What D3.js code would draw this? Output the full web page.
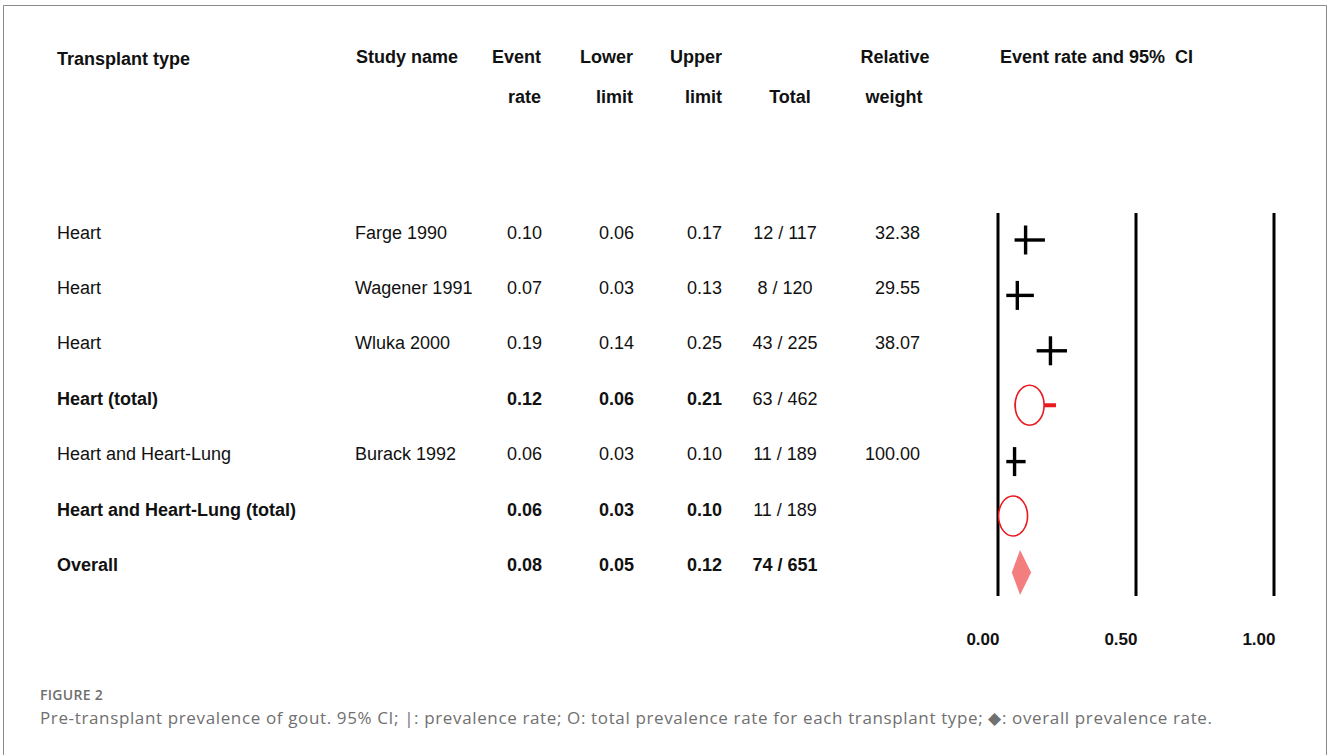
<!DOCTYPE html>
<html>
<head>
<meta charset="utf-8">
<script src="https://cdn.jsdelivr.net/npm/d3@7"></script>
<style>
    body { margin: 0; background: #fff; }
    svg { display: block; }
</style>
</head>
<body>
<div class="forest"></div>
<script>
// table data
const transplantTypes = ["Heart", "Heart", "Heart", "Heart (total)", "Heart and Heart-Lung", "Heart and Heart-Lung (total)", "Overall"];
const studyNames = ["Farge 1990", "Wagener 1991", "Wluka 2000", "", "Burack 1992", "", ""];
const eventRates = [0.10, 0.07, 0.19, 0.12, 0.06, 0.06, 0.08];
const lowerLimits = [0.06, 0.03, 0.14, 0.06, 0.03, 0.03, 0.05];
const upperLimits = [0.17, 0.13, 0.25, 0.21, 0.10, 0.10, 0.12];
const totals = ["12 / 117", "8 / 120", "43 / 225", "63 / 462", "11 / 189", "11 / 189", "74 / 651"];
const weights = ["32.38", "29.55", "38.07", "", "100.00", "", ""];
const rowKinds = ["study", "study", "study", "subtotal", "study", "subtotal", "overall"];
const axisTicks = [0, 0.5, 1];

const width = 1328,
    height = 755;

const font = "'Liberation Sans', Arial, sans-serif";

const rows = transplantTypes.map((t, i) => ({
    type: t,
    study: studyNames[i],
    rate: eventRates[i],
    lower: lowerLimits[i],
    upper: upperLimits[i],
    total: totals[i],
    weight: weights[i],
    kind: rowKinds[i]
}));

const svg = d3.select(".forest")
    .append("svg")
    .attr("width", width)
    .attr("height", height);

// frame round the figure
svg.append("path")
    .attr("d", `M3.5,${height + 2} V5.5 H1326.5 V${height + 2}`)
    .attr("fill", "none")
    .attr("stroke", "#8a8a8a")
    .attr("stroke-width", 1);

// scales
const x = d3.scaleLinear()
    .domain([0, 1])
    .range([998, 1274]);

const y = d3.scalePoint()
    .domain(d3.range(rows.length))
    .range([240, 572.4]);

// headers
const headers = [
    { t: "Transplant type", x: 57, y: 64.5, a: "start" },
    { t: "Study name", x: 356, y: 62.5, a: "start" },
    { t: "Event", x: 541, y: 62.5, a: "end" },
    { t: "rate", x: 541, y: 102.5, a: "end" },
    { t: "Lower", x: 633, y: 62.5, a: "end" },
    { t: "limit", x: 633, y: 102.5, a: "end" },
    { t: "Upper", x: 722, y: 62.5, a: "end" },
    { t: "limit", x: 722, y: 102.5, a: "end" },
    { t: "Total", x: 790, y: 102.5, a: "middle" },
    { t: "Relative", x: 895, y: 62.5, a: "middle" },
    { t: "weight", x: 894, y: 102.5, a: "middle" },
    { t: "Event rate and 95%  CI", x: 1000, y: 62.5, a: "start" }
];

svg.selectAll("text.header")
    .data(headers)
    .join("text")
    .attr("class", "header")
    .attr("x", d => d.x)
    .attr("y", d => d.y)
    .attr("text-anchor", d => d.a)
    .attr("font-family", font)
    .attr("font-weight", "bold")
    .attr("font-size", 18)
    .attr("fill", "#111")
    .style("white-space", "pre")
    .text(d => d.t);

// table cells
const fmt = d3.format(".2f");
const columns = [
    { get: d => d.type, x: 57, a: "start", bold: d => d.kind !== "study" },
    { get: d => d.study, x: 355, a: "start", bold: () => false },
    { get: d => fmt(d.rate), x: 542, a: "end", bold: d => d.kind !== "study" },
    { get: d => fmt(d.lower), x: 634, a: "end", bold: d => d.kind !== "study" },
    { get: d => fmt(d.upper), x: 722, a: "end", bold: d => d.kind !== "study" },
    { get: d => d.total, x: 785, a: "middle", bold: d => d.kind === "overall" },
    { get: d => d.weight, x: 920, a: "end", bold: () => false }
];

const rowG = svg.selectAll("g.row")
    .data(rows)
    .join("g")
    .attr("class", "row")
    .attr("transform", (d, i) => `translate(0, ${y(i) - 1.5})`);

columns.forEach(col => {
    rowG.append("text")
        .attr("x", col.x)
        .attr("text-anchor", col.a)
        .attr("font-family", font)
        .attr("font-size", 18)
        .attr("font-weight", d => col.bold(d) ? "bold" : "normal")
        .attr("fill", "#111")
        .text(d => col.get(d));
});

// vertical reference lines at the axis ticks
svg.selectAll("line.ref")
    .data(axisTicks)
    .join("line")
    .attr("class", "ref")
    .attr("x1", d => x(d))
    .attr("x2", d => x(d))
    .attr("y1", 213)
    .attr("y2", 596)
    .attr("stroke", "#000")
    .attr("stroke-width", 3);

// axis labels
const xAxis = d3.axisBottom(x)
    .tickValues(axisTicks)
    .tickFormat(fmt)
    .tickSize(0)
    .tickPadding(0);

const axisG = svg.append("g")
    .attr("transform", "translate(1, 633)")
    .call(xAxis);
axisG.select(".domain").remove();
axisG.selectAll(".tick text")
    .attr("text-anchor", "end")
    .attr("font-family", font)
    .attr("font-weight", "bold")
    .attr("font-size", 17)
    .attr("fill", "#111");

// study markers: CI line plus tick
const studies = rows.map((d, i) => ({ ...d, i })).filter(d => d.kind === "study");
svg.selectAll("line.ci")
    .data(studies)
    .join("line")
    .attr("class", "ci")
    .attr("x1", d => x(d.lower))
    .attr("x2", d => x(d.upper))
    .attr("y1", d => y(d.i))
    .attr("y2", d => y(d.i))
    .attr("stroke", "#000")
    .attr("stroke-width", 3.4);

svg.selectAll("line.point")
    .data(studies)
    .join("line")
    .attr("class", "point")
    .attr("x1", d => x(d.rate))
    .attr("x2", d => x(d.rate))
    .attr("y1", d => y(d.i) - 14.5)
    .attr("y2", d => y(d.i) + 14.5)
    .attr("stroke", "#000")
    .attr("stroke-width", 3.4);

// subtotal markers: red CI and ellipse
const subtotals = rows.map((d, i) => ({ ...d, i })).filter(d => d.kind === "subtotal");
svg.selectAll("line.subci")
    .data(subtotals)
    .join("line")
    .attr("class", "subci")
    .attr("x1", d => x(d.lower))
    .attr("x2", d => x(d.upper))
    .attr("y1", d => y(d.i) - 1)
    .attr("y2", d => y(d.i) - 1)
    .attr("stroke", "#e8191f")
    .attr("stroke-width", 4);

svg.selectAll("ellipse.sub")
    .data(subtotals)
    .join("ellipse")
    .attr("class", "sub")
    .attr("cx", d => x(d.rate) - 1.5)
    .attr("cy", d => y(d.i) - 1)
    .attr("rx", 14.5)
    .attr("ry", 20)
    .attr("fill", "#fff")
    .attr("stroke", "#e8191f")
    .attr("stroke-width", 1.6);

// overall diamond
const overall = rows.map((d, i) => ({ ...d, i })).filter(d => d.kind === "overall");
svg.selectAll("path.overall")
    .data(overall)
    .join("path")
    .attr("class", "overall")
    .attr("d", d => {
        const cy = y(d.i);
        return `M${x(d.lower)},${cy} L${x(d.rate)},${cy - 22.5} L${x(d.upper)},${cy} L${x(d.rate)},${cy + 22.5} Z`;
    })
    .attr("fill", "#f47d7d");

// caption
svg.append("text")
    .attr("x", 40)
    .attr("y", 700)
    .attr("font-family", "'Open Sans', 'Noto Sans', sans-serif")
    .attr("font-weight", 600)
    .attr("font-size", 14)
    .attr("letter-spacing", 0.3)
    .attr("fill", "#6f6f6f")
    .text("FIGURE 2");

svg.append("text")
    .attr("x", 40)
    .attr("y", 724)
    .attr("font-family", "'Open Sans', 'Noto Sans', sans-serif")
    .attr("font-size", 17)
    .attr("textLength", 1172)
    .attr("lengthAdjust", "spacing")
    .attr("fill", "#707070")
    .text("Pre-transplant prevalence of gout. 95% CI; |: prevalence rate; O: total prevalence rate for each transplant type; \u25C6: overall prevalence rate.");
</script>
</body>
</html>
